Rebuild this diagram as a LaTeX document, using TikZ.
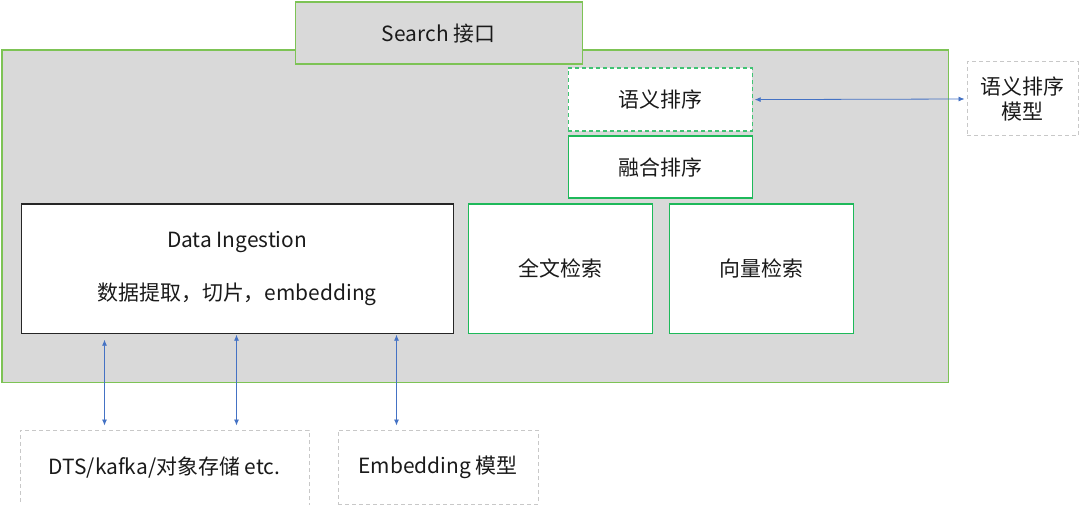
\documentclass[tikz,border=0pt]{standalone}
\usepackage{fontspec}
\setmainfont{Noto Sans CJK SC}
\usepackage{tikz}
\usetikzlibrary{arrows.meta,positioning,calc}
\definecolor{panelgray}{HTML}{D9D9D9}
\definecolor{limeedge}{RGB}{125,195,85}
\definecolor{greenedge}{RGB}{30,185,90}
\definecolor{dashgray}{RGB}{200,200,200}
\definecolor{linkblue}{HTML}{4472C4}
\definecolor{inktext}{RGB}{26,26,26}
\tikzset{
  block/.style={draw,anchor=north west,inner sep=0pt,align=center,text=inktext,line width=1.2bp},
  panel/.style={block,draw=limeedge,fill=panelgray},
  greenbox/.style={block,draw=greenedge,fill=white},
  greendash/.style={greenbox,draw=greenedge!85,dash pattern=on 4bp off 3bp},
  blackbox/.style={block,draw=black!85,fill=white},
  extbox/.style={block,draw=dashgray,fill=white,line width=1bp,dash pattern=on 4bp off 3bp},
  biarrow/.style={linkblue,line width=0.8bp,{Latex[length=6bp,width=5bp]}-{Latex[length=6bp,width=5bp]}}
}
\begin{document}
\begin{tikzpicture}[x=1bp,y=-1bp,font=\fontsize{21}{26}\selectfont]
\useasboundingbox (0,0) rectangle (1080,505);
% --- main panel and its entry ---
\node[panel,minimum width=946bp,minimum height=332bp] (outer) at (1.5,49.5) {};
\node[panel,minimum width=287bp,minimum height=62bp] (search) at (294.5,1.5) {Search 接口};
% --- ranking stack ---
\node[greendash,minimum width=184bp,minimum height=63bp] (rank) at (567.5,67.5) {语义排序};
\node[greenbox,minimum width=184bp,minimum height=62bp] (fuse) at (567.5,135.5) {融合排序};
% --- retrieval row ---
\node[blackbox,minimum width=432bp,minimum height=129bp] (ingest) at (20.5,203.5)
  {Data Ingestion\\[27pt]数据提取，切片，embedding};
\node[greenbox,minimum width=184bp,minimum height=129bp] (fulltext) at (467.5,203.5) {全文检索};
\node[greenbox,minimum width=184bp,minimum height=129bp] (vector) at (668.5,203.5) {向量检索};
% --- outside services ---
\node[extbox,minimum width=111bp,minimum height=74bp] (rankmodel) at (966.5,61.5) {语义排序\\模型};
\node[extbox,minimum width=289bp,minimum height=75bp] (source) at (19.5,429.5) {DTS/kafka/对象存储 etc.};
\node[extbox,minimum width=200bp,minimum height=74bp] (embmodel) at (337.5,429.5) {Embedding 模型};
% --- links ---
\draw[biarrow] ([xshift=2bp]rank.east) -- ([xshift=-2bp]rankmodel.west);
\draw[biarrow] ([xshift=84bp,yshift=-6bp]ingest.south west) -- ([xshift=85bp,yshift=4bp]source.north west);
\draw[biarrow] ([xshift=216bp,yshift=-1bp]ingest.south west) -- ([xshift=217bp,yshift=4bp]source.north west);
\draw[biarrow] ([xshift=376bp,yshift=-1bp]ingest.south west) -- ([xshift=59bp,yshift=4bp]embmodel.north west);
\end{tikzpicture}
\end{document}
